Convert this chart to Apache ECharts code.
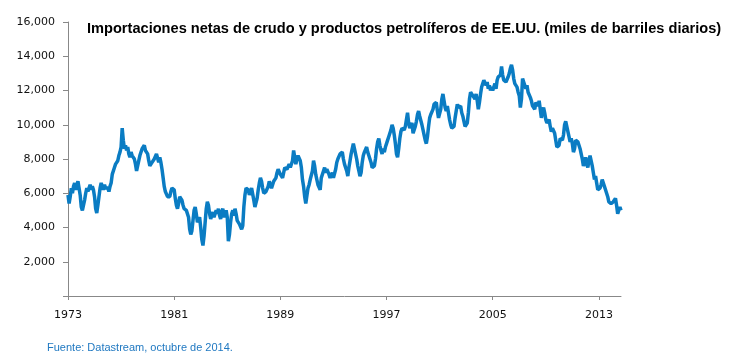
<!DOCTYPE html>
<html><head><meta charset="utf-8">
<script src="https://cdn.jsdelivr.net/npm/echarts@6/dist/echarts.min.js"></script>
<style>html,body{margin:0;padding:0;background:#fff}#c{width:734px;height:358px}</style>
</head><body><div id="c"></div>
<script>
// Monthly net imports (thousand barrels/day), Jan 1973 - Sep 2014, one row per year
const startYear = 1973;
const yearlyValues = [
  [5900,5400,5800,6300,6000,6400,6600,6200,6500,6700,6300,5900], // 1973
  [5200,5000,5100,5600,6000,6300,6100,6300,6500,6200,6400,6200], // 1974
  [5800,5100,4850,5300,5800,6300,6600,6400,6200,6500,6300,6200], // 1975
  [6300,6100,6400,6600,7100,7000,7500,7700,7600,7900,8200,8400], // 1976
  [8700,9800,9100,8600,8800,8500,8700,8300,8100,8400,8200,8300], // 1977
  [8000,7700,7300,7400,7900,8200,8300,8600,8700,8800,8500,8600], // 1978
  [8300,7900,7600,7500,7800,7700,8000,8100,8300,8200,7800,8100], // 1979
  [7800,7400,6900,6400,6100,6000,5800,5700,5800,6100,6300,6400], // 1980
  [6200,5700,5300,5100,5400,5800,5900,5600,5300,5100,5200,5000], // 1981
  [5100,4600,3900,3600,3800,4400,5000,5200,4800,4300,4200,4600], // 1982
  [4000,3300,2950,3500,4300,5100,5500,5300,4800,4500,4700,4900], // 1983
  [4600,4500,5000,4800,5100,4700,4500,4900,5100,4600,4800,5000], // 1984
  [4600,3200,3600,4300,4800,5000,4700,5100,4800,4400,4500,4200], // 1985
  [4300,3900,4100,5200,5900,6300,6400,6200,5900,6100,6300,6400], // 1986
  [5600,5200,5300,5700,6200,6600,6900,6700,6300,6000,5900,6100], // 1987
  [6200,6400,6700,6500,6300,6500,6700,6600,6900,7200,7400,7300], // 1988
  [7100,7000,6900,7200,7500,7600,7400,7500,7700,7500,7600,7900], // 1989
  [8500,8100,7700,8000,8200,8300,7900,7500,6800,6400,5800,5400], // 1990
  [5500,6300,6500,6800,6700,7300,7900,7600,7100,6800,6500,6600], // 1991
  [6200,6900,7000,7300,7500,7200,7400,7500,7100,6900,7000,7200], // 1992
  [6900,7000,7400,7800,8000,8100,8300,8200,8400,8000,7700,7600], // 1993
  [7300,7000,7500,7900,8300,8600,8900,8600,8300,8000,7600,7300], // 1994
  [7000,7200,7800,8200,8400,8500,8700,8400,8200,8000,7800,7500], // 1995
  [7400,7600,8000,8600,9000,9200,8800,8500,8300,8600,8400,8700], // 1996
  [8900,9100,9300,9500,9700,10000,9800,9400,8900,8300,8100,8600], // 1997
  [9200,9600,9800,9900,9700,9900,10300,10700,10100,9800,9900,10100], // 1998
  [9500,9400,9900,10200,10600,10800,10500,10400,10000,9700,9400,9100], // 1999
  [8900,9300,9900,10400,10600,10700,10900,11200,11100,11300,10800,10400], // 2000
  [10300,10900,11500,11800,11400,11000,10800,11100,10700,10300,10000,9800], // 2001
  [9700,9900,10400,10800,11200,11000,10900,11100,10700,10500,10200,9900], // 2002
  [9800,10100,10700,11500,11900,12000,11700,11600,11500,11800,11400,10900], // 2003
  [11300,11800,12200,12400,12600,12500,12300,12500,12100,12300,12000,12200], // 2004
  [12000,12200,12400,12100,12600,12800,12700,12900,13400,12900,12600,12700], // 2005
  [12500,12400,12800,13000,13300,13500,13200,12700,12400,12300,12200,11900], // 2006
  [11700,11000,11500,12700,12500,12300,12100,12300,11900,11800,11600,11400], // 2007
  [11100,11200,10900,11300,11200,11100,11400,10900,10400,10800,11000,10700], // 2008
  [10300,10100,10000,10300,9900,9600,9800,9700,9500,9100,8700,8600], // 2009
  [8800,9200,9300,9100,9400,10000,10200,10100,9600,9300,9000,9200], // 2010
  [8900,8400,8600,9100,9200,9000,8800,8600,8300,8000,7600,7800], // 2011
  [8100,7700,7500,7900,8200,8100,7600,7200,6800,7000,6600,6200], // 2012
  [6100,6300,6500,6800,6700,6400,6200,6000,5800,5500,5600,5400], // 2013
  [5300,5500,5400,5700,5300,4800,4900,5200,5000] // 2014
];
const yTicks = [0,2000,4000,6000,8000,10000,12000,14000,16000];
const xTickLabels = ['1973','1981','1989','1997','2005','2013'];
const titleText = 'Importaciones netas de crudo y productos petrolíferos de EE.UU. (miles de barriles diarios)';
const sourceText = 'Fuente: Datastream, octubre de 2014.';

const categories = [];
const values = [];
yearlyValues.forEach((row, i) => {
  row.forEach((v, m) => {
    categories.push((startYear + i) + '-' + String(m + 1).padStart(2, '0'));
    values.push(v);
  });
});

const chart = echarts.init(document.getElementById('c'));
const fmt = v => v === 0 ? '' : v.toLocaleString('en-US');
chart.setOption({
  animation: false,
  title: {
    text: titleText, left: 82, top: 16,
    textStyle: { fontFamily: 'Liberation Sans', fontSize: 14.6, fontWeight: 'bold', color: '#000' }
  },
  grid: { left: 68, right: 113, top: 22, bottom: 62 },
  xAxis: {
    type: 'category', data: categories, boundaryGap: false,
    axisLine: { lineStyle: { color: '#888', width: 1 } },
    axisTick: { show: true, interval: 95, length: 4, lineStyle: { color: '#888' } },
    axisLabel: {
      interval: 95, margin: 14, color: '#111', fontFamily: 'DejaVu Sans', fontSize: 11,
      formatter: v => { const y = v.slice(0, 4); return xTickLabels.includes(y) ? y : ''; }
    },
    splitLine: { show: false }
  },
  yAxis: {
    type: 'value', min: yTicks[0], max: yTicks[yTicks.length - 1], interval: 2000,
    axisLine: { show: true, lineStyle: { color: '#888', width: 1 } },
    axisTick: { show: true, length: 5, lineStyle: { color: '#888' } },
    axisLabel: { margin: 13, color: '#111', fontFamily: 'DejaVu Sans', fontSize: 11, formatter: fmt },
    splitLine: { show: false }
  },
  series: [{
    type: 'line', data: values, showSymbol: false, symbol: 'none',
    lineStyle: { color: '#0A7CC3', width: 3.5 }
  }],
  graphic: [{
    type: 'text', left: 47, top: 342,
    style: { text: sourceText, fill: '#1F78C1', font: '11px "Liberation Sans"' }
  }]
});
</script></body></html>
